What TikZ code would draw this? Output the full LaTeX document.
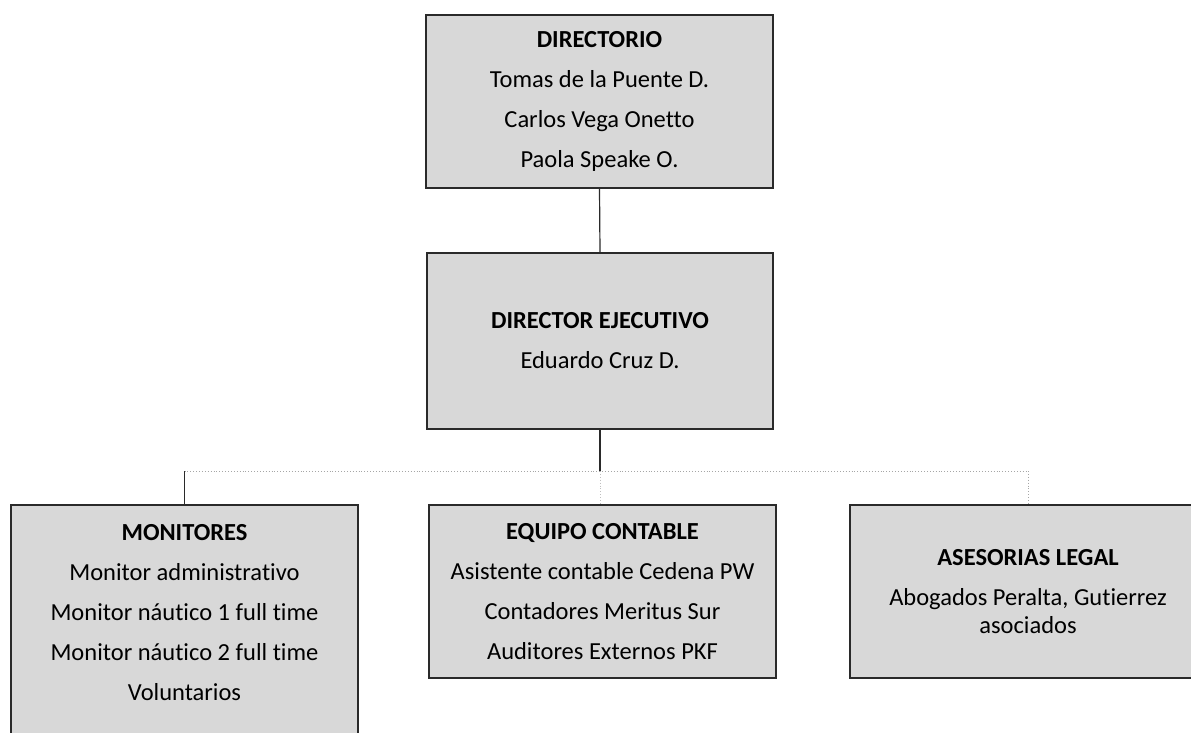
\documentclass[tikz,border=0pt]{standalone}
\usepackage{fontspec}
\setmainfont[Ligatures=NoCommon]{Carlito}
\definecolor{boxfill}{HTML}{D8D8D8}
\definecolor{edge}{HTML}{2A2A2A}
\begin{document}
\begin{tikzpicture}[x=1pt,y=-1pt,
  boxshape/.style={draw=edge, line width=1.3pt, fill=boxfill, rectangle, inner sep=0pt},
  box/.style={boxshape, align=center, font=\fontsize{24.5}{40}\selectfont, text=black},
  boxtext/.style={align=center, inner sep=0pt, font=\fontsize{24.5}{40}\selectfont, text=black},
  conn/.style={draw=edge, line width=1.2pt},
  faint/.style={draw=black!35, line width=0.9pt, dotted}]
\useasboundingbox (0,0) rectangle (1191,733);
\clip (0,0) rectangle (1191,733);

\node[box, minimum width=347pt, minimum height=173pt] (dir) at (599.5,101.5)
  {\textbf{DIRECTORIO}\\Tomas de la Puente D.\\Carlos Vega Onetto\\Paola Speake O.};
\node[box, minimum width=346pt, minimum height=176pt] (exec) at (600,341)
  {\textbf{DIRECTOR EJECUTIVO}\\Eduardo Cruz D.};

\node[boxshape, minimum width=347pt, minimum height=240pt] (mon) at (184.5,625) {};
\node[boxtext] (montext) at (184.5,613)
  {\textbf{MONITORES}\\Monitor administrativo\\Monitor náutico 1 full time\\Monitor náutico 2 full time\\Voluntarios};

\node[box, minimum width=347pt, minimum height=173pt] (eq) at (602.5,591.5)
  {\textbf{EQUIPO CONTABLE}\\Asistente contable Cedena PW\\Contadores Meritus Sur\\Auditores Externos PKF};

\node[box, minimum width=356pt, minimum height=173pt] (ase) at (1028,591.5)
  {\textbf{ASESORIAS LEGAL}\\Abogados Peralta, Gutierrez\\[-12pt]asociados};

\coordinate (jn) at (601,471);
\draw[conn] (dir.south) -- (exec.north);
\draw[conn] (exec.south) -- (exec.south |- jn);
\draw[faint] (mon.north |- jn) -- (ase.north |- jn);
\draw[conn] (mon.north |- jn) -- (mon.north);
\draw[faint] (ase.north |- jn) -- (ase.north);
\draw[faint, draw=black!25] (exec.south |- jn) -- (exec.south |- eq.north);
\end{tikzpicture}
\end{document}
